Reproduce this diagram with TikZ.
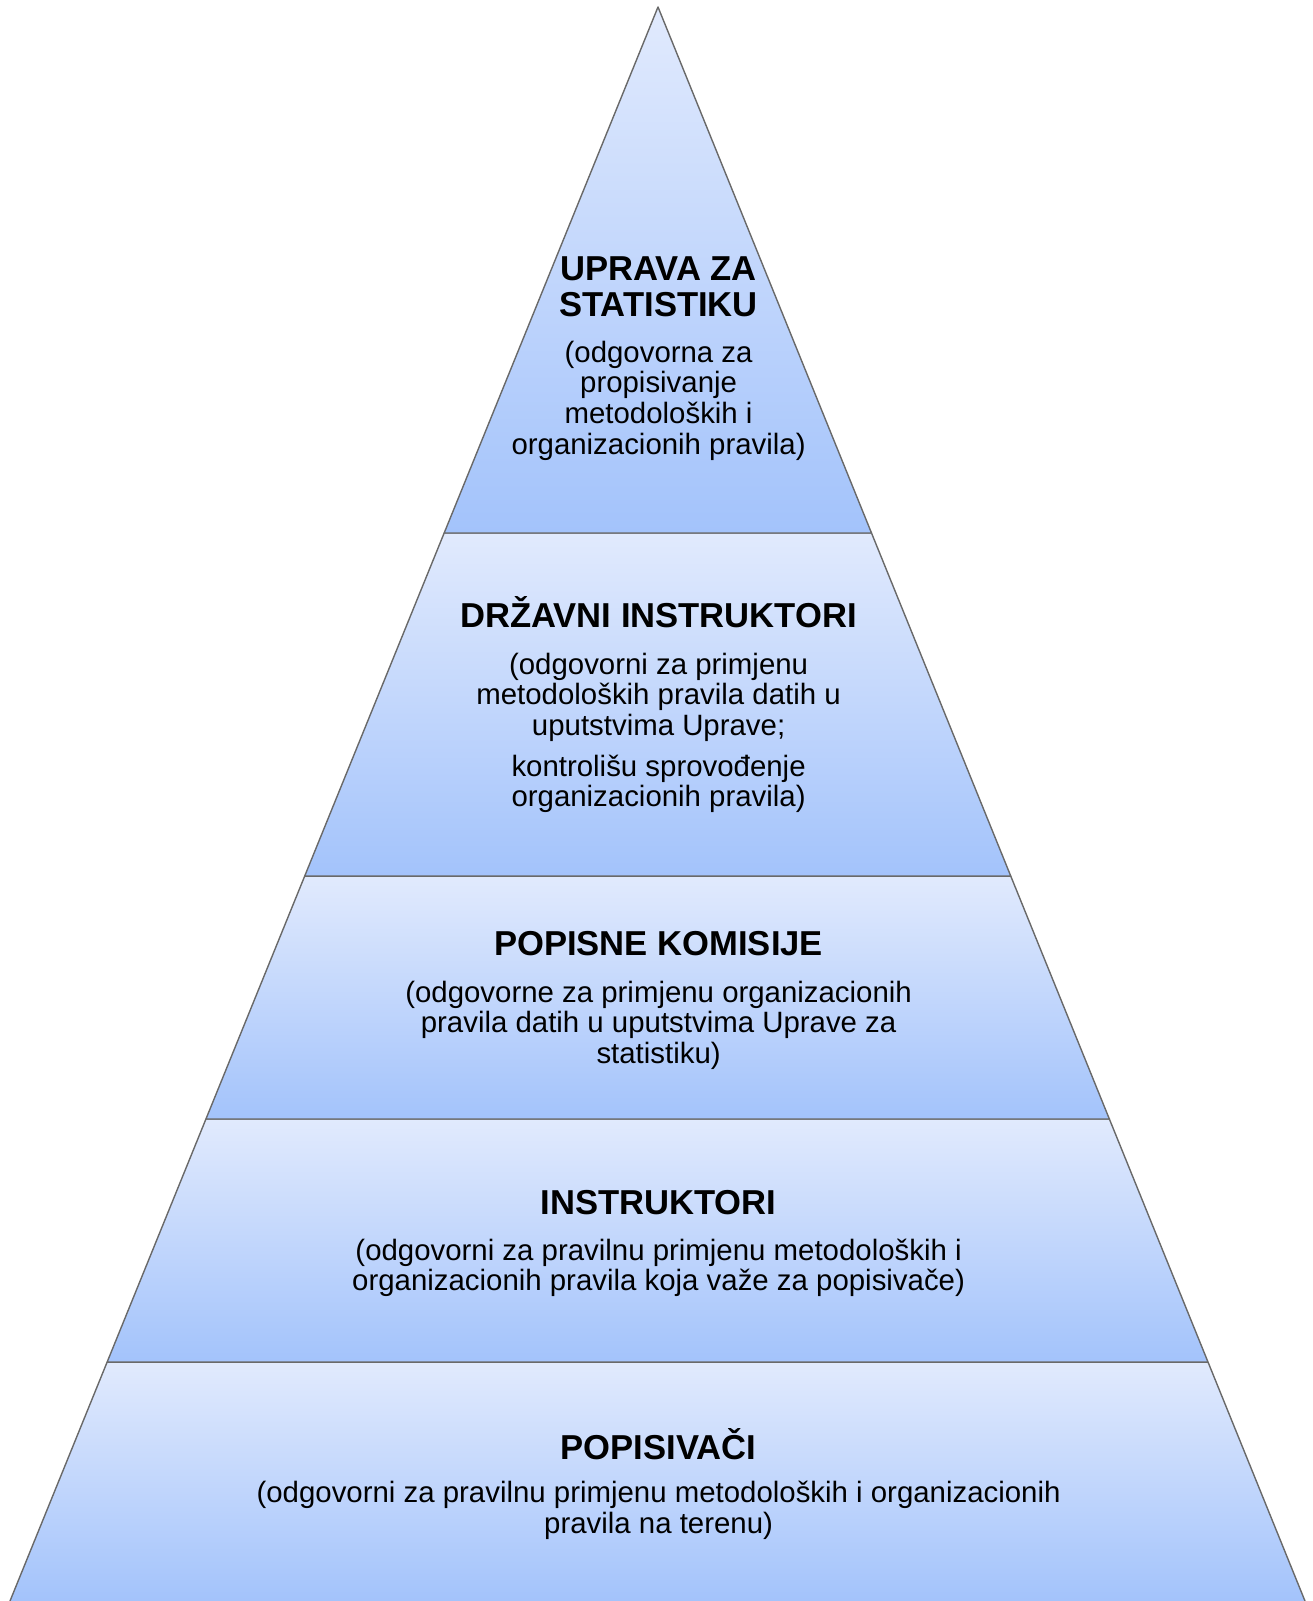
\documentclass[tikz,border=0pt]{standalone}
\usepackage{fontspec}
\setmainfont{Liberation Sans}
\usetikzlibrary{calc}
\definecolor{bandtop}{RGB}{225,234,253}
\definecolor{bandbot}{RGB}{163,195,251}
\definecolor{edgecol}{RGB}{105,105,105}
\begin{document}
\begin{tikzpicture}[x=1pt,y=-1pt,
  band/.style={draw=edgecol,line width=1.4pt,top color=bandtop,bottom color=bandbot,line join=round},
  bandfill/.style={top color=bandtop,bottom color=bandbot},
  edgeline/.style={draw=edgecol,line width=1.4pt},
  title/.style={font=\fontsize{34.6}{36}\selectfont\bfseries,align=center,inner sep=0pt},
  body/.style={font=\fontsize{29.4}{30.6}\selectfont,align=center,inner sep=0pt}]
\useasboundingbox (0,0) rectangle (1312,1601);
\coordinate (A) at (658,7);
\coordinate (L) at (10,1601);
\coordinate (R) at (1305,1601);
\coordinate (L1) at ($(A)!0.3300!(L)$);
\coordinate (R1) at ($(A)!0.3300!(R)$);
\coordinate (L2) at ($(A)!0.5452!(L)$);
\coordinate (R2) at ($(A)!0.5452!(R)$);
\coordinate (L3) at ($(A)!0.6976!(L)$);
\coordinate (R3) at ($(A)!0.6976!(R)$);
\coordinate (L4) at ($(A)!0.8501!(L)$);
\coordinate (R4) at ($(A)!0.8501!(R)$);
% bands
\path[bandfill] (L4) -- (R4) -- (R) -- (L) -- cycle;
\draw[edgeline] (L4) -- (L);
\draw[edgeline] (R4) -- (R);
\draw[band] (L3) -- (R3) -- (R4) -- (L4) -- cycle;
\draw[band] (L2) -- (R2) -- (R3) -- (L3) -- cycle;
\draw[band] (L1) -- (R1) -- (R2) -- (L2) -- cycle;
\draw[band] (A) -- (R1) -- (L1) -- cycle;
% texts
\node[title] (t1) at (658.6,287) {UPRAVA ZA\\STATISTIKU};
\node[body] (b1) at (658.6,400.5) {(odgovorna za\\propisivanje\\metodoloških i\\organizacionih pravila)};
\node[title] (t2) at (658.6,612.6) {DRŽAVNI INSTRUKTORI};
\node[body] (b2) at (658.6,697) {(odgovorni za primjenu\\metodoloških pravila datih u\\uputstvima Uprave;};
\node[body] (b2b) at (658.6,784) {kontrolišu sprovođenje\\organizacionih pravila)};
\node[title] (t3) at (658.6,944) {POPISNE KOMISIJE};
\node[body] (b3) at (658.6,1025) {(odgovorne za primjenu organizacionih\\pravila datih u uputstvima Uprave za\\statistiku)};
\node[title] (t4) at (658.6,1202.5) {INSTRUKTORI};
\node[body] (b4) at (658.6,1268) {(odgovorni za pravilnu primjenu metodoloških i\\organizacionih pravila koja važe za popisivače)};
\node[title] (t5) at (658.6,1443.7) {POPISIVAČI};
\node[body] (b5) at (658.6,1510.5) {(odgovorni za pravilnu primjenu metodoloških i organizacionih\\pravila na terenu)};
\end{tikzpicture}
\end{document}
